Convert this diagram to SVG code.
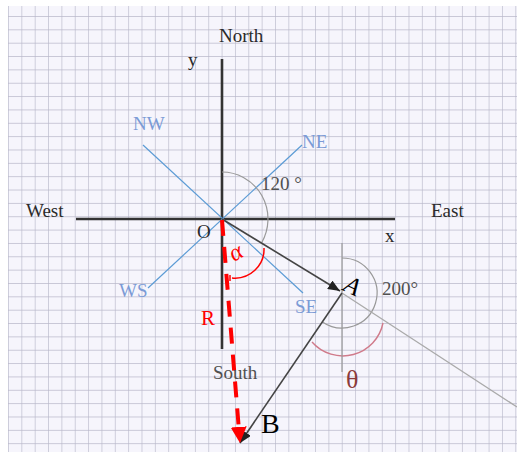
<svg xmlns="http://www.w3.org/2000/svg" width="517" height="452" viewBox="0 0 517 452">
<style>
text{font-family:"Liberation Serif","Times New Roman",serif;font-size:19px}
.dark{fill:#2a2a2a}
.gray{fill:#505050}
.blue{fill:#7b9bd6}
.red{fill:#f00}
.axis{stroke:#333;stroke-width:2.6;fill:none}
.comp{stroke:#5b9bd5;stroke-width:1.2;fill:none}
.thin{stroke:#999;stroke-width:1.2;fill:none}
</style>
<defs>
<pattern id="grid" x="8" y="16" width="13.35" height="13.35" patternUnits="userSpaceOnUse">
<path d="M0 0H13.35M0 0V13.35" stroke="#b9b8ca" stroke-width="1.3" fill="none"/>
</pattern>
<marker id="arrDark" markerUnits="userSpaceOnUse" markerWidth="12" markerHeight="10" refX="12" refY="5" orient="auto">
<path d="M0,0 L12,5 L0,10 z" fill="#222"/>
</marker>
<marker id="arrRed" markerUnits="userSpaceOnUse" markerWidth="16" markerHeight="16" refX="0" refY="8" orient="auto">
<path d="M0,0 L16,8 L0,16 z" fill="#f00"/>
</marker>
</defs>
<rect x="0" y="0" width="517" height="452" fill="#fff"/>
<rect id="paper" x="8" y="6" width="509" height="446" fill="#f6f5fc"/>
<rect x="8" y="6" width="509" height="446" fill="url(#grid)"/>

<g id="axes">
<line class="axis" x1="76" y1="219" x2="395" y2="219"/>
<line class="axis" x1="222" y1="59" x2="222" y2="349"/>
</g>
<g id="compass">
<line class="comp" x1="143" y1="145" x2="303" y2="293"/>
<line class="comp" x1="148" y1="288" x2="302" y2="145"/>
</g>
<g id="arcs">
<path class="thin" d="M222,172 A46,47 0 0 1 261.8,242.5"/>
<path d="M264,248 A29,29 0 0 1 232,278 M230,275 V281" stroke="#f00" stroke-width="1.5" fill="none"/>
<path class="thin" d="M342,258 A35,35 0 1 1 322.4,322"/>
<path d="M312,342 A41,41 0 0 0 383,323" stroke="#d07a8a" stroke-width="1.4" fill="none"/>
</g>
<g id="connectors">
<line class="thin" x1="342" y1="243" x2="342" y2="372"/>
<line stroke="#aaa" stroke-width="1.3" x1="342" y1="293" x2="517" y2="407"/>
<line stroke="#444" stroke-width="1.6" x1="222" y1="219" x2="340" y2="291" marker-end="url(#arrDark)"/>
<line stroke="#444" stroke-width="1.6" x1="342" y1="293" x2="240" y2="443" marker-end="url(#arrDark)"/>
<line stroke="#f00" stroke-width="4" stroke-dasharray="16 11" x1="222" y1="220" x2="238.7" y2="427" marker-end="url(#arrRed)"/>
</g>
<g id="labels">
<text class="dark" x="219" y="42">North</text>
<text class="dark" x="188" y="66">y</text>
<text class="blue" x="133" y="130">NW</text>
<text class="blue" x="302" y="148">NE</text>
<text class="gray" x="261" y="190">120 °</text>
<text class="dark" x="26" y="217">West</text>
<text class="dark" x="431" y="217">East</text>
<text class="dark" x="385" y="242">x</text>
<text class="dark" x="197" y="238">O</text>
<text class="red" x="0" y="0" font-style="italic" style="font-size:24px" transform="translate(234,262) rotate(-30)">α</text>
<text fill="#000" x="0" y="0" font-style="italic" style="font-size:25px" transform="translate(342,290) rotate(25)">A</text>
<text class="gray" x="382" y="295">200°</text>
<text class="blue" x="119" y="297">WS</text>
<text class="blue" x="295" y="313">SE</text>
<text class="red" x="201" y="325" style="font-size:21px">R</text>
<text class="gray" x="213" y="379">South</text>
<text fill="#8b3b3b" x="346" y="388" style="font-size:26px">θ</text>
<text fill="#000" x="261" y="433" style="font-size:28px">B</text>
</g>
</svg>
